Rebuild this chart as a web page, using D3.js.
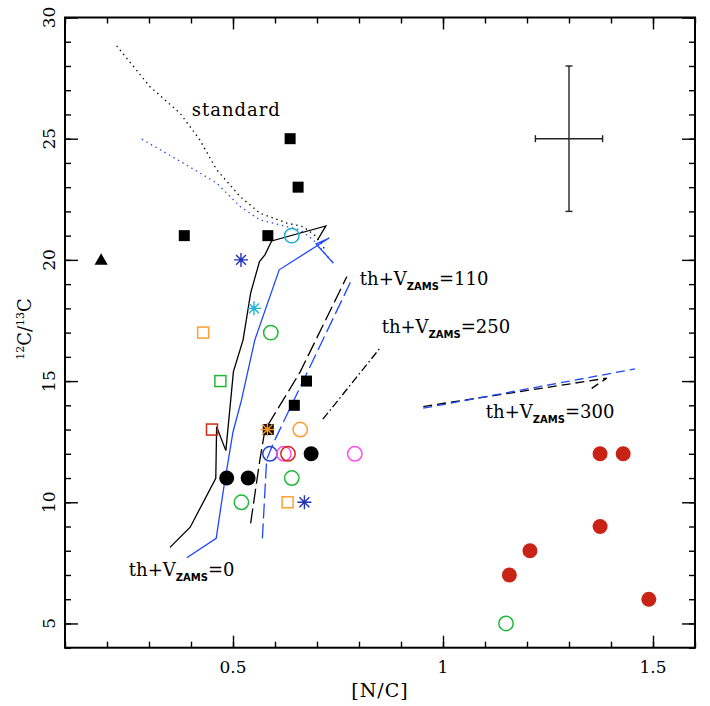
<!DOCTYPE html>
<html>
<head>
<meta charset="utf-8">
<script src="https://cdn.jsdelivr.net/npm/d3@7"></script>
<style>
body { margin: 0; background: #fff; }
svg { display: block; }
text { font-family: 'DejaVu Serif', serif; fill: #000; }
</style>
</head>
<body>
<svg width="710" height="706"></svg>
<script>
// observed stars, [N/C] vs 12C/13C
const blackSquares = [[0.636, 25], [0.655, 23], [0.384, 21], [0.583, 21], [0.675, 15], [0.646, 14], [0.584, 13]];
const blackTriangles = [[0.186, 20]];
const blackDots = [[0.485, 11], [0.536, 11], [0.686, 12]];
const redDots = [[1.374, 12], [1.429, 12], [1.374, 9], [1.207, 8], [1.158, 7], [1.49, 6]];
const orangeSquares = [[0.429, 17], [0.630, 10]];
const greenSquares = [[0.47, 15]];
const redSquares = [[0.45, 13]];
const greenCircles = [[0.59, 17], [0.64, 11], [0.52, 10], [1.15, 5]];
const cyanCircles = [[0.64, 21]];
const orangeCircles = [[0.66, 13]];
const blueCircles = [[0.588, 12]];
const magentaCircles = [[0.621, 12], [0.79, 12]];
const redCircles = [[0.631, 12]];
const blueStars = [[0.519, 20], [0.670, 10]];
const cyanStars = [[0.55, 18]];
const orangeStars = [[0.582, 13]];

// typical error
const errCenter = [1.30, 25];
const errX = 0.08;
const errY = 3;

// model tracks
const stdBlack = [[0.223, 28.83], [0.302, 27.15], [0.374, 26.05], [0.421, 24.95], [0.461, 23.72], [0.517, 22.61], [0.564, 21.93], [0.628, 21.52], [0.667, 21.37], [0.699, 20.96], [0.72, 20.4]];
const stdBlue = [[0.283, 24.98], [0.382, 23.99], [0.461, 23.17], [0.517, 22.2], [0.564, 21.65], [0.66, 21.24], [0.691, 20.83], [0.739, 19.86]];
const v0Black = [[0.35, 8.14], [0.398, 8.97], [0.459, 10.99], [0.461, 13.12], [0.483, 12.13], [0.501, 15.39], [0.524, 16.7], [0.542, 18.63], [0.563, 19.93], [0.576, 20.21], [0.592, 20.78], [0.721, 21.4], [0.701, 20.81]];
const v0Blue = [[0.39, 7.71], [0.46, 8.51], [0.478, 10.6], [0.50, 12.9], [0.52, 14.2], [0.552, 16.7], [0.61, 19.59], [0.729, 20.9], [0.698, 20.66], [0.739, 19.86]];
const v110Black = [[0.542, 9.13], [0.564, 11.75], [0.576, 12.98], [0.66, 15.38], [0.771, 19.31]];
const v110Blue = [[0.57, 8.51], [0.58, 11.75], [0.596, 12.44], [0.78, 19.09]];
const v250Black = [[0.714, 13.43], [0.85, 16.36]];
const v300Black = [[0.953, 13.95], [1.39, 15.12], [1.354, 14.7]];
const v300Blue = [[0.953, 13.88], [1.457, 15.5]];

// track labels: [x, y, text before subscript, subscript, text after]
const trackLabels = [
    [0.802, 18.97, 'th+V', 'ZAMS', '=110'],
    [0.854, 17.0, 'th+V', 'ZAMS', '=250'],
    [1.102, 13.47, 'th+V', 'ZAMS', '=300'],
    [0.252, 6.96, 'th+V', 'ZAMS', '=0']
];
const stdLabel = [0.4017, 25.94, 'standard'];

const xTickValues = [0.5, 1, 1.5];
const xTickLabels = ['0.5', '1', '1.5'];
const yTickValues = [5, 10, 15, 20, 25, 30];
const yTickLabels = ['5', '10', '15', '20', '25', '30'];

const svg = d3.select('svg');
const plotLeft = 65, plotRight = 695, plotTop = 17.5, plotBottom = 647.7;

const x = d3.scaleLinear().domain([0.1, 1.6]).range([plotLeft, plotRight]);
const y = d3.scaleLinear().domain([4, 30]).range([plotBottom, plotTop]);

// frame + ticks (inward, mirrored)
const tickStyle = (g) => {
    g.select('.domain').remove();
    g.selectAll('line').attr('stroke', '#000').attr('stroke-width', 1.4);
    g.selectAll('text').remove();
};

svg.append('g').attr('transform', `translate(0,${plotBottom})`).
    call(d3.axisBottom(x).ticks(15).tickSize(-6)).call(tickStyle);
svg.append('g').attr('transform', `translate(0,${plotBottom})`).
    call(d3.axisBottom(x).tickValues(xTickValues).tickSize(-12)).call(tickStyle);
svg.append('g').attr('transform', `translate(0,${plotTop})`).
    call(d3.axisTop(x).ticks(15).tickSize(-6)).call(tickStyle);
svg.append('g').attr('transform', `translate(0,${plotTop})`).
    call(d3.axisTop(x).tickValues(xTickValues).tickSize(-12)).call(tickStyle);
svg.append('g').attr('transform', `translate(${plotLeft},0)`).
    call(d3.axisLeft(y).ticks(26).tickSize(-6)).call(tickStyle);
svg.append('g').attr('transform', `translate(${plotLeft},0)`).
    call(d3.axisLeft(y).tickValues(yTickValues).tickSize(-13)).call(tickStyle);
svg.append('g').attr('transform', `translate(${plotRight},0)`).
    call(d3.axisRight(y).ticks(26).tickSize(-6)).call(tickStyle);
svg.append('g').attr('transform', `translate(${plotRight},0)`).
    call(d3.axisRight(y).tickValues(yTickValues).tickSize(-13)).call(tickStyle);

svg.append('rect').
    attr('x', plotLeft).attr('y', plotTop).
    attr('width', plotRight - plotLeft).attr('height', plotBottom - plotTop).
    attr('fill', 'none').attr('stroke', '#000').attr('stroke-width', 2);

// tick labels
svg.selectAll('.xlab').data(xTickValues).enter().append('text').
    attr('x', d => x(d)).attr('y', plotBottom + 25).
    attr('text-anchor', 'middle').style('font-size', '17px').
    text((d, i) => xTickLabels[i]);

svg.selectAll('.ylab').data(yTickValues).enter().append('text').
    attr('transform', d => `translate(${plotLeft - 10},${y(d)}) rotate(-90)`).
    attr('text-anchor', 'middle').style('font-size', '17px').
    text((d, i) => yTickLabels[i]);

// axis titles
svg.append('text').
    attr('x', (plotLeft + plotRight) / 2).attr('y', 697).
    attr('text-anchor', 'middle').style('font-size', '19px').style('letter-spacing', '1px').
    text('[N/C]');

const ytitle = svg.append('text').
    attr('transform', `translate(31,329) rotate(-90)`).
    attr('text-anchor', 'middle').style('font-size', '18px');
ytitle.append('tspan').attr('font-size', '11px').attr('dy', -7).text('12');
ytitle.append('tspan').attr('dy', 7).text('C/');
ytitle.append('tspan').attr('font-size', '11px').attr('dy', -7).text('13');
ytitle.append('tspan').attr('dy', 7).text('C');

// tracks
const line = d3.line().x(d => x(d[0])).y(d => y(d[1]));
const drawTrack = (data, color, dash) => {
    svg.append('path').datum(data).
        attr('d', line).
        attr('fill', 'none').
        attr('stroke', color).
        attr('stroke-width', 1.3).
        attr('stroke-dasharray', dash);
};

const blue = '#1e46ff';
drawTrack(stdBlack, '#000', '1.4,3.8');
drawTrack(stdBlue, blue, '1.4,3.8');
drawTrack(v0Black, '#000', null);
drawTrack(v0Blue, blue, null);
drawTrack(v110Black, '#000', '15,5');
drawTrack(v110Blue, blue, '15,5');
drawTrack(v250Black, '#000', '8,3,1.5,3');
drawTrack(v300Black, '#000', '9,5');
drawTrack(v300Blue, blue, '9,5');

// labels on tracks
svg.append('text').
    attr('x', x(stdLabel[0])).attr('y', y(stdLabel[1])).
    style('font-size', '18px').style('letter-spacing', '1px').
    text(stdLabel[2]);

trackLabels.forEach(l => {
    const t = svg.append('text').
        attr('x', x(l[0])).attr('y', y(l[1])).
        style('font-size', '18px');
    t.append('tspan').text(l[2]);
    t.append('tspan').attr('dy', 5).
        style('font-family', "'DejaVu Sans', sans-serif").
        style('font-weight', 'bold').style('font-size', '10px').
        text(l[3]);
    t.append('tspan').attr('dy', -5).text(l[4]);
});

// error cross
const ex = x(errCenter[0]), ey = y(errCenter[1]);
const err = svg.append('g').attr('stroke', '#222').attr('stroke-width', 1.4);
err.append('line').attr('x1', ex).attr('x2', ex).attr('y1', y(errCenter[1] + errY)).attr('y2', y(errCenter[1] - errY));
err.append('line').attr('x1', x(errCenter[0] - errX)).attr('x2', x(errCenter[0] + errX)).attr('y1', ey).attr('y2', ey);
[errCenter[1] + errY, errCenter[1] - errY].forEach(v => {
    err.append('line').attr('x1', ex - 3.5).attr('x2', ex + 3.5).attr('y1', y(v)).attr('y2', y(v));
});
[errCenter[0] - errX, errCenter[0] + errX].forEach(v => {
    err.append('line').attr('x1', x(v)).attr('x2', x(v)).attr('y1', ey - 3.5).attr('y2', ey + 3.5);
});

// markers
const squares = (data, color, filled) => {
    const s = 11;
    svg.selectAll(null).data(data).enter().append('rect').
        attr('x', d => x(d[0]) - s / 2).attr('y', d => y(d[1]) - s / 2).
        attr('width', s).attr('height', s).
        attr('fill', filled ? color : 'none').
        attr('stroke', filled ? 'none' : color).
        attr('stroke-width', 1.5);
};

const circles = (data, color, filled) => {
    svg.selectAll(null).data(data).enter().append('circle').
        attr('cx', d => x(d[0])).attr('cy', d => y(d[1])).
        attr('r', filled ? 7.5 : 7.2).
        attr('fill', filled ? color : 'none').
        attr('stroke', filled ? 'none' : color).
        attr('stroke-width', 1.5);
};

const starPath = (r) => {
    const k = r * Math.SQRT1_2;
    return `M${-r},0L${r},0M0,${-r}L0,${r}M${-k},${-k}L${k},${k}M${-k},${k}L${k},${-k}`;
};

const stars = (data, color) => {
    svg.selectAll(null).data(data).enter().append('path').
        attr('transform', d => `translate(${x(d[0])},${y(d[1])})`).
        attr('d', starPath(7)).
        attr('fill', 'none').
        attr('stroke', color).
        attr('stroke-width', 1.4);
};

squares(blackSquares, '#000', true);
svg.selectAll(null).data(blackTriangles).enter().append('path').
    attr('transform', d => `translate(${x(d[0])},${y(d[1]) + 1})`).
    attr('d', d3.symbol(d3.symbolTriangle, 75)).
    attr('fill', '#000');
circles(blackDots, '#000', true);
circles(redDots, '#c82314', true);
squares(orangeSquares, '#ffa031', false);
squares(greenSquares, '#21b83a', false);
squares(redSquares, '#cc2a12', false);
circles(greenCircles, '#21b83a', false);
circles(cyanCircles, '#1fb0d0', false);
circles(orangeCircles, '#ffa031', false);
circles(blueCircles, '#2244cc', false);
circles(magentaCircles, '#ff4ef0', false);
circles(redCircles, '#cc2a12', false);
stars(blueStars, '#2233b8');
stars(cyanStars, '#22b0d8');
stars(orangeStars, '#ff9a20');
</script>
</body>
</html>
